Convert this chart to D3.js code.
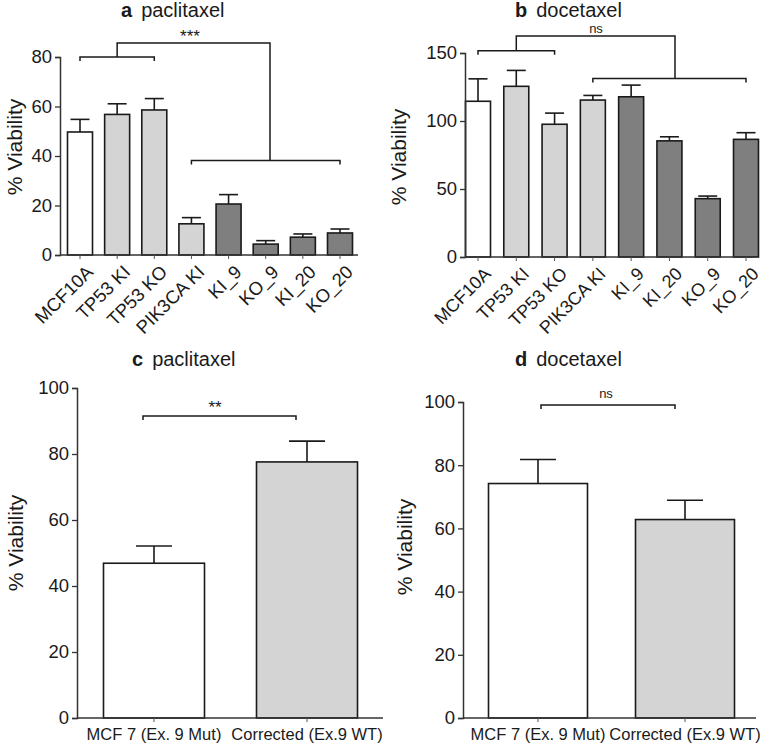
<!DOCTYPE html>
<html>
<head>
<meta charset="utf-8">
<script src="https://cdn.jsdelivr.net/npm/d3@7"></script>
<style>
  body { margin: 0; background: #fff; }
  svg { font-family: "Liberation Sans", Arial, sans-serif; }
</style>
</head>
<body>
<div id="chart"></div>
<script>
// ---- data ----
var cellLinesA = ["MCF10A", "TP53 KI", "TP53 KO", "PIK3CA KI", "KI_9", "KO_9", "KI_20", "KO_20"];
var paclitaxelA = [49.7, 56.8, 58.6, 12.6, 20.6, 4.4, 7.2, 8.9];
var paclitaxelAErr = [54.8, 61.1, 63.2, 15.1, 24.4, 5.8, 8.5, 10.5];
var fillsA = ["white", "light", "light", "light", "dark", "dark", "dark", "dark"];

var cellLinesB = ["MCF10A", "TP53 KI", "TP53 KO", "PIK3CA KI", "KI_9", "KI_20", "KO_9", "KO_20"];
var docetaxelB = [114.5, 125.5, 97.6, 115.4, 117.8, 85.4, 42.9, 86.5];
var docetaxelBErr = [131, 137.2, 105.8, 118.8, 126.4, 88.4, 44.8, 91.4];
var fillsB = ["white", "light", "light", "light", "dark", "dark", "dark", "dark"];

var groupsCD = ["MCF 7 (Ex. 9 Mut)", "Corrected (Ex.9 WT)"];
var paclitaxelC = [46.9, 77.6];
var paclitaxelCErr = [52.1, 83.9];
var docetaxelD = [74.2, 62.8];
var docetaxelDErr = [81.8, 68.9];
var fillsCD = ["white", "light"];

var colors = {white: "#ffffff", light: "#d4d4d4", dark: "#7f7f7f"};
var ink = "#1a1a1a";

var svg = d3.select("#chart").append("svg")
  .attr("width", 766)
  .attr("height", 748);

// one bar panel; pixel frame and look come in through o
function panel(o) {
  var g = svg.append("g");
  var yy = d3.scaleLinear().domain([0, o.ymax]).range([o.y0, o.y1]);
  var xx = d3.scalePoint().domain(o.cats).range([o.c0, o.c1]);

  // bars
  g.selectAll("rect.bar").data(o.values).enter().append("rect")
    .attr("class", "bar")
    .attr("x", function(d, i) { return xx(o.cats[i]) - o.bw / 2; })
    .attr("width", o.bw)
    .attr("y", function(d) { return yy(d); })
    .attr("height", function(d) { return yy(0) - yy(d); })
    .attr("fill", function(d, i) { return colors[o.fills[i]]; })
    .attr("stroke", ink)
    .attr("stroke-width", 1.6);

  // error bars (upper only)
  g.selectAll("line.err").data(o.errs).enter().append("line")
    .attr("x1", function(d, i) { return xx(o.cats[i]); })
    .attr("x2", function(d, i) { return xx(o.cats[i]); })
    .attr("y1", function(d, i) { return yy(o.values[i]); })
    .attr("y2", function(d) { return yy(d); })
    .attr("stroke", ink).attr("stroke-width", 1.6);
  g.selectAll("line.cap").data(o.errs).enter().append("line")
    .attr("x1", function(d, i) { return xx(o.cats[i]) - o.cap / 2; })
    .attr("x2", function(d, i) { return xx(o.cats[i]) + o.cap / 2; })
    .attr("y1", function(d) { return yy(d); })
    .attr("y2", function(d) { return yy(d); })
    .attr("stroke", ink).attr("stroke-width", 1.6);

  // y axis
  var yAxis = g.append("g")
    .attr("transform", "translate(" + o.ax + ",0)")
    .call(d3.axisLeft(yy).tickValues(o.yticks).tickSize(5).tickPadding(3));
  yAxis.select(".domain").attr("stroke", "#333").attr("stroke-width", 1.5);
  yAxis.selectAll(".tick line").attr("stroke", "#333").attr("stroke-width", 1.3);
  yAxis.selectAll("text").attr("font-size", 18.5).attr("fill", ink)
    .attr("font-family", "Liberation Sans, Arial, sans-serif");

  // x axis
  var xAxis = g.append("g")
    .attr("transform", "translate(0," + o.y0 + ")");
  xAxis.append("line")
    .attr("x1", o.ax).attr("x2", o.axEnd)
    .attr("stroke", "#333").attr("stroke-width", 1.5);
  xAxis.selectAll("line.xt").data(o.cats).enter().append("line")
    .attr("x1", function(d) { return xx(d); })
    .attr("x2", function(d) { return xx(d); })
    .attr("y1", 0).attr("y2", 4)
    .attr("stroke", "#555").attr("stroke-width", 1);
  if (o.rotate) {
    xAxis.selectAll("text").data(o.cats).enter().append("text")
      .attr("transform", function(d) { return "translate(" + (xx(d) + 5) + ",9) rotate(-45)"; })
      .attr("text-anchor", "end")
      .attr("dy", "0.7em")
      .attr("font-size", o.xfont)
      .attr("fill", ink)
      .text(function(d) { return d; });
  } else {
    xAxis.selectAll("text").data(o.cats).enter().append("text")
      .attr("x", function(d) { return xx(d); })
      .attr("y", 22)
      .attr("text-anchor", "middle")
      .attr("font-size", 16.5)
      .attr("fill", ink)
      .text(function(d) { return d; });
  }

  // y label
  g.append("text")
    .attr("transform", "translate(" + o.ylabX + "," + o.ylabY + ") rotate(-90)")
    .attr("text-anchor", "middle")
    .attr("font-size", 21)
    .attr("fill", ink)
    .text("% Viability");

  // title
  var t = g.append("text").attr("x", o.titleX).attr("y", o.titleY)
    .attr("font-size", 20).attr("fill", ink);
  t.append("tspan").attr("font-weight", "bold").text(o.letter);
  t.append("tspan").attr("dx", 9).text(o.drug);

  return {g: g, xx: xx, yy: yy};
}

function bracket(g, x1, x2, y, tick) {
  g.append("path")
    .attr("d", "M" + x1 + "," + (y + tick) + "V" + y + "H" + x2 + "V" + (y + tick))
    .attr("fill", "none").attr("stroke", ink).attr("stroke-width", 1.5);
}
function label(g, x, y, txt, size) {
  g.append("text").attr("x", x).attr("y", y).attr("text-anchor", "middle")
    .attr("font-size", size || 13).attr("fill", ink).text(txt);
}

// ---- panel a ----
var a = panel({
  cats: cellLinesA, values: paclitaxelA, errs: paclitaxelAErr, fills: fillsA,
  ymax: 80, yticks: [0, 20, 40, 60, 80], y0: 255, y1: 57,
  ax: 60, axEnd: 358, c0: 80, c1: 340, bw: 25, cap: 19, rotate: true, xfont: 18.5,
  ylabX: 22, ylabY: 147, titleX: 121, titleY: 17, letter: "a", drug: "paclitaxel"
});
(function() {
  var xx = a.xx, yy = a.yy, g = a.g;
  var yTop = yy(80), yHi = yTop - 14, yLow = yy(38.2);
  bracket(g, xx("MCF10A"), xx("TP53 KO"), yTop, 4);
  bracket(g, xx("PIK3CA KI"), xx("KO_20"), yLow, 4);
  var lc = (xx("MCF10A") + xx("TP53 KO")) / 2;
  var rc = 270;
  g.append("path")
    .attr("d", "M" + lc + "," + yTop + "V" + yHi + "H" + rc + "V" + yLow)
    .attr("fill", "none").attr("stroke", ink).attr("stroke-width", 1.5);
  label(g, 190, 42, "***", 17);
})();

// ---- panel b ----
var b = panel({
  cats: cellLinesB, values: docetaxelB, errs: docetaxelBErr, fills: fillsB,
  ymax: 150, yticks: [0, 50, 100, 150], y0: 257, y1: 53,
  ax: 465, axEnd: 753, c0: 478, c1: 746, bw: 25, cap: 19, rotate: true, xfont: 18,
  ylabX: 406, ylabY: 157, titleX: 515, titleY: 17, letter: "b", drug: "docetaxel"
});
(function() {
  var xx = b.xx, yy = b.yy, g = b.g;
  var yLeft = 50.7, yHi = 36, yLow = 78.5;
  bracket(g, xx("MCF10A"), xx("TP53 KO"), yLeft, 4);
  bracket(g, xx("PIK3CA KI"), xx("KO_20"), yLow, 4);
  var lc = (xx("MCF10A") + xx("TP53 KO")) / 2;
  var rc = 675;
  g.append("path")
    .attr("d", "M" + lc + "," + yLeft + "V" + yHi + "H" + rc + "V" + yLow)
    .attr("fill", "none").attr("stroke", ink).attr("stroke-width", 1.5);
  label(g, 596, 33, "ns");
})();

// ---- panel c ----
var c = panel({
  cats: groupsCD, values: paclitaxelC, errs: paclitaxelCErr, fills: fillsCD,
  ymax: 100, yticks: [0, 20, 40, 60, 80, 100], y0: 718, y1: 388,
  ax: 77, axEnd: 383, c0: 154, c1: 307, bw: 101, cap: 36, rotate: false,
  ylabX: 23, ylabY: 543, titleX: 132, titleY: 366, letter: "c", drug: "paclitaxel"
});
bracket(c.g, 143, 296, 416, 4);
label(c.g, 215, 413, "**", 17);

// ---- panel d ----
var dd = panel({
  cats: groupsCD, values: docetaxelD, errs: docetaxelDErr, fills: fillsCD,
  ymax: 100, yticks: [0, 20, 40, 60, 80, 100], y0: 718, y1: 402,
  ax: 463, axEnd: 756, c0: 538, c1: 685, bw: 99, cap: 36, rotate: false,
  ylabX: 412, ylabY: 547, titleX: 515, titleY: 366, letter: "d", drug: "docetaxel"
});
bracket(dd.g, 541, 675, 405, 4);
label(dd.g, 606, 398, "ns");
</script>
</body>
</html>
